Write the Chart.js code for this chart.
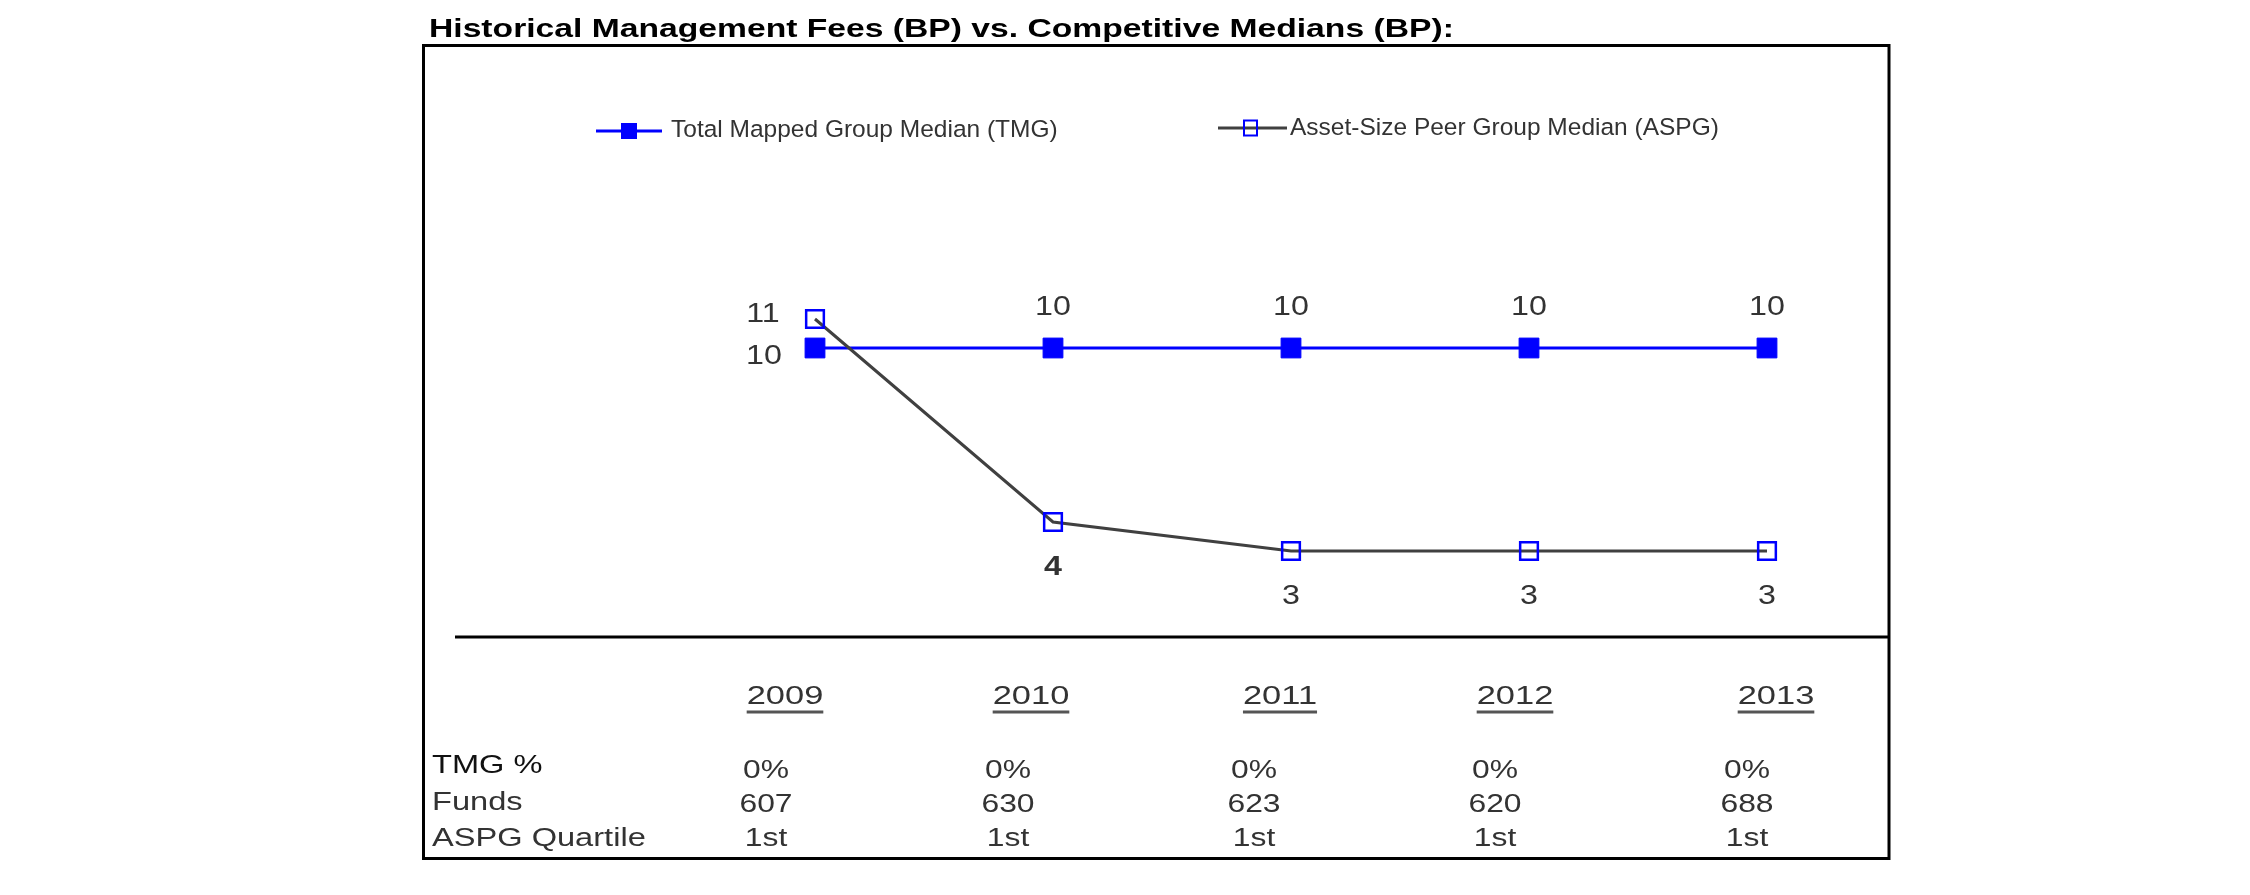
<!DOCTYPE html>
<html>
<head>
<meta charset="utf-8">
<script src="https://cdn.jsdelivr.net/npm/chart.js@4/dist/chart.umd.min.js"></script>
<style>
    html, body { margin: 0; padding: 0; background: #fff; overflow: hidden; }
</style>
</head>
<body>
<canvas id="cizgi" width="2250" height="895"></canvas>
<script>
const title = 'Historical Management Fees (BP) vs. Competitive Medians (BP):';
const years = ['2009', '2010', '2011', '2012', '2013'];
const tmgLabel = 'Total Mapped Group Median (TMG)';
const aspgLabel = 'Asset-Size Peer Group Median (ASPG)';
const tmgMedian = [10, 10, 10, 10, 10];
const aspgMedian = [11, 4, 3, 3, 3];
const rowLabels = ['TMG %', 'Funds', 'ASPG Quartile'];
const tmgPct = ['0%', '0%', '0%', '0%', '0%'];
const funds = [607, 630, 623, 620, 688];
const aspgQuartile = ['1st', '1st', '1st', '1st', '1st'];

const FONT = '"Liberation Sans", Arial, sans-serif';

// table layout under the plot (column centres and row middles, px)
const yearColX = [785, 1031, 1280, 1515, 1776];
const valueColX = [766, 1008, 1254, 1495, 1747];
const labelRowY = [766, 803, 839];
const valueRowY = [771, 805, 839];

// draws text, optionally stretched horizontally
function yazi(ctx, text, x, y, font, color, align, sx, baseline) {
    ctx.save();
    ctx.font = font;
    ctx.fillStyle = color;
    ctx.textAlign = align;
    ctx.textBaseline = baseline || 'middle';
    ctx.translate(x, y);
    ctx.scale(sx, 1);
    ctx.fillText(text, 0, 0);
    const w = ctx.measureText(text).width * sx;
    ctx.restore();
    return w;
}

const cerceve = {
    id: 'cerceve',
    afterDraw(chart) {
        const ctx = chart.ctx;
        const yScale = chart.scales.y;

        // title
        yazi(ctx, title, 429, 37, 'bold 26.5px ' + FONT, '#000', 'left', 1.27, 'alphabetic');

        // frame
        ctx.save();
        ctx.strokeStyle = '#000';
        ctx.lineWidth = 3;
        ctx.strokeRect(423.5, 45.5, 1465.5, 813);

        // baseline under the plot
        const y0 = yScale.getPixelForValue(0) - 1;
        ctx.beginPath();
        ctx.moveTo(455, y0);
        ctx.lineTo(1889, y0);
        ctx.stroke();
        ctx.restore();

        // legend
        ctx.save();
        ctx.strokeStyle = '#0000FF';
        ctx.lineWidth = 3;
        ctx.beginPath();
        ctx.moveTo(596, 131);
        ctx.lineTo(662, 131);
        ctx.stroke();
        ctx.fillStyle = '#0000FF';
        ctx.fillRect(621, 123, 16, 16);

        ctx.strokeStyle = '#404040';
        ctx.beginPath();
        ctx.moveTo(1218, 128);
        ctx.lineTo(1287, 128);
        ctx.stroke();
        ctx.strokeStyle = '#0000FF';
        ctx.lineWidth = 2;
        ctx.strokeRect(1244, 120.5, 13, 15);
        ctx.restore();
        yazi(ctx, tmgLabel, 671, 130, '24.5px ' + FONT, '#333', 'left', 1);
        yazi(ctx, aspgLabel, 1290, 128, '24.5px ' + FONT, '#333', 'left', 1);

        // table under the chart
        years.forEach((yr, i) => {
            const x = yearColX[i];
            const w = yazi(ctx, yr, x, 697, '26.5px ' + FONT, '#333', 'center', 1.3);
            ctx.save();
            ctx.strokeStyle = '#555';
            ctx.lineWidth = 3;
            ctx.beginPath();
            ctx.moveTo(x - w / 2, 712);
            ctx.lineTo(x + w / 2, 712);
            ctx.stroke();
            ctx.restore();
        });
        const rows = [tmgPct, funds, aspgQuartile];
        rowLabels.forEach((lbl, r) => {
            yazi(ctx, lbl, 432, labelRowY[r], '26.5px ' + FONT, r === 0 ? '#111' : '#333', 'left', 1.23);
            rows[r].forEach((v, i) => {
                yazi(ctx, String(v), valueColX[i], valueRowY[r], '26.5px ' + FONT, '#333', 'center', 1.2);
            });
        });
    },
    afterDatasetsDraw(chart) {
        const ctx = chart.ctx;
        chart.data.datasets.forEach((ds, d) => {
            const meta = chart.getDatasetMeta(d);
            meta.data.forEach((pt, i) => {
                const pos = ds.labelPos[i];
                let x = pt.x, y = pt.y;
                if (pos === 'above') y -= 41;
                else if (pos === 'below') y += 45;
                else if (pos === 'leftBelow') { x -= 51; y += 8; }
                else if (pos === 'leftAbove') { x -= 52; y -= 5; }
                const font = (ds.labelBold && ds.labelBold[i] ? 'bold ' : '') + '28px ' + FONT;
                yazi(ctx, String(ds.data[i]), x, y, font, '#333', 'center', 1.15);
            });
        });
    }
};

const ctx = document.getElementById('cizgi').getContext('2d');
new Chart(ctx, {
    type: 'line',
    data: {
        labels: years,
        datasets: [{
            label: tmgLabel,
            data: tmgMedian,
            borderColor: '#0000FF',
            borderWidth: 3,
            pointStyle: 'rect',
            pointRadius: 14,
            pointBackgroundColor: '#0000FF',
            pointBorderColor: '#0000FF',
            pointBorderWidth: 1,
            tension: 0,
            clip: false,
            order: 1,
            labelPos: ['leftBelow', 'above', 'above', 'above', 'above']
        }, {
            label: aspgLabel,
            data: aspgMedian,
            borderColor: '#404040',
            borderWidth: 3,
            pointStyle: 'rect',
            pointRadius: 12.5,
            pointBackgroundColor: 'rgba(0,0,0,0)',
            pointBorderColor: '#0000FF',
            pointBorderWidth: 2.5,
            tension: 0,
            clip: false,
            order: 0,
            labelPos: ['leftAbove', 'below', 'below', 'below', 'below'],
            labelBold: [false, true, false, false, false]
        }]
    },
    options: {
        responsive: false,
        devicePixelRatio: 1,
        animation: false,
        layout: {
            padding: { left: 815, right: 483, top: 203, bottom: 257 }
        },
        scales: {
            x: { type: 'category', offset: false, display: false },
            y: { min: 0, max: 15, display: false }
        },
        plugins: {
            legend: { display: false },
            title: { display: false },
            tooltip: { enabled: false }
        }
    },
    plugins: [cerceve]
});
</script>
</body>
</html>
